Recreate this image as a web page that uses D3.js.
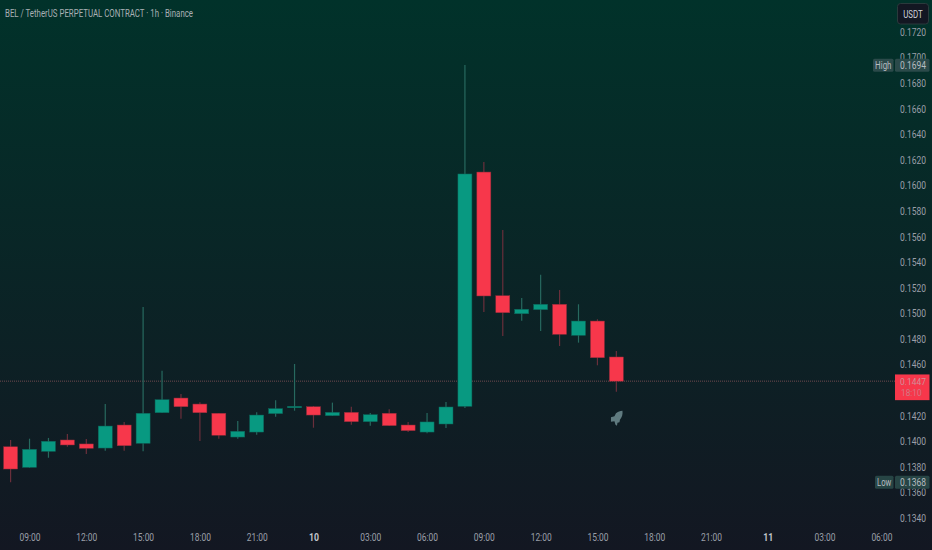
<!DOCTYPE html>
<html>
<head>
<meta charset="utf-8">
<title>BEL / TetherUS</title>
<script src="https://cdn.jsdelivr.net/npm/d3@7"></script>
<style>
  html, body { margin: 0; padding: 0; background: #131722; }
  svg { display: block; }
  text { font-family: Roboto, "Liberation Sans", sans-serif; }
</style>
</head>
<body>
<svg id="chart" width="932" height="550"></svg>
<script>
// hourly candles, first one is 08:00
const opens = [0.13957, 0.13796, 0.13921, 0.14010, 0.13979, 0.13947, 0.14127, 0.13984, 0.14223, 0.14338, 0.14291,
  0.14219, 0.14033, 0.14072, 0.14216, 0.14262, 0.14270, 0.14200, 0.14226, 0.14153, 0.14219, 0.14127, 0.14072,
  0.14135, 0.14273, 0.16105, 0.15138, 0.14997, 0.15029, 0.15071, 0.14828, 0.14940, 0.14659];
const highs = [0.14010, 0.14020, 0.14026, 0.14057, 0.14018, 0.14291, 0.14151, 0.15050, 0.14552, 0.14370, 0.14305,
  0.14221, 0.14158, 0.14226, 0.14320, 0.14604, 0.14276, 0.14302, 0.14270, 0.14221, 0.14250, 0.14151, 0.14221,
  0.14307, 0.16942, 0.16184, 0.15652, 0.15120, 0.15302, 0.15183, 0.15071, 0.14954, 0.14706];
const lows = [0.13680, 0.13793, 0.13871, 0.13957, 0.13900, 0.13926, 0.13926, 0.13921, 0.14221, 0.14176, 0.14002,
  0.14020, 0.14020, 0.14051, 0.14192, 0.14239, 0.14106, 0.14198, 0.14130, 0.14122, 0.14119, 0.14072, 0.14062,
  0.14104, 0.14260, 0.15011, 0.14823, 0.14943, 0.14862, 0.14745, 0.14771, 0.14594, 0.14388];
const closes = [0.13783, 0.13937, 0.14000, 0.13971, 0.13945, 0.14119, 0.13965, 0.14219, 0.14325, 0.14270, 0.14223,
  0.14047, 0.14078, 0.14205, 0.14255, 0.14273, 0.14205, 0.14226, 0.14153, 0.14208, 0.14122, 0.14083, 0.14151,
  0.14268, 0.16090, 0.15136, 0.15005, 0.15032, 0.15071, 0.14836, 0.14940, 0.14653, 0.14470];

const priceTicks = [0.1720, 0.1700, 0.1680, 0.1660, 0.1640, 0.1620, 0.1600, 0.1580, 0.1560, 0.1540, 0.1520, 0.1500,
  0.1480, 0.1460, 0.1420, 0.1400, 0.1380, 0.1360, 0.1340];
const timeTickIndex = [1, 4, 7, 10, 13, 16, 19, 22, 25, 28, 31, 34, 37, 40, 43, 46];
const timeTickLabels = ["09:00", "12:00", "15:00", "18:00", "21:00", "10", "03:00", "06:00", "09:00", "12:00",
  "15:00", "18:00", "21:00", "11", "03:00", "06:00"];

const title = "BEL / TetherUS PERPETUAL CONTRACT · 1h · Binance";
const lastPrice = 0.1447;
const countdown = "18:10";
const highPrice = 0.1694;
const lowPrice = 0.1368;

const UP = "#089981";
const DOWN = "#f7374b";
const UP_WICK = "#27695f";
const DOWN_WICK = "#6a2f3b";
const TEXT = "#9a9fa8";

const svg = d3.select("#chart");
const width = 932;
const height = 550;

// the reference font is narrower than anything installed, so squeeze to its widths
function squeeze(selection, length) {
  selection.attr("textLength", length).attr("lengthAdjust", "spacingAndGlyphs");
}

const defs = svg.append("defs");
const grad = defs.append("linearGradient")
  .attr("id", "bg")
  .attr("x1", 0).attr("x2", 0).attr("y1", 0).attr("y2", 1);
grad.append("stop").attr("offset", "0%").attr("stop-color", "#01322a");
grad.append("stop").attr("offset", "100%").attr("stop-color", "#131722");

svg.append("rect")
  .attr("width", width)
  .attr("height", height)
  .attr("fill", "url(#bg)");

const y = d3.scaleLinear().domain([0.1340, 0.1720]).range([518, 32]);
const x = d3.scaleLinear().domain([0, 1]).range([10.6, 29.53]);

// last price line
svg.append("line")
  .attr("x1", 0).attr("x2", 895)
  .attr("y1", y(lastPrice)).attr("y2", y(lastPrice))
  .attr("stroke", "#6f4a4e")
  .attr("stroke-dasharray", "1 1");

const candles = d3.range(opens.length).map((i) => ({
  i,
  open: opens[i],
  high: highs[i],
  low: lows[i],
  close: closes[i],
  up: closes[i] >= opens[i],
}));

const bodyWidth = 14;

svg.append("g").selectAll("line")
  .data(candles)
  .join("line")
  .attr("x1", (d) => x(d.i))
  .attr("x2", (d) => x(d.i))
  .attr("y1", (d) => y(d.high))
  .attr("y2", (d) => y(d.low))
  .attr("stroke", (d) => (d.up ? UP_WICK : DOWN_WICK))
  .attr("stroke-width", 1.2);

svg.append("g").selectAll("rect")
  .data(candles)
  .join("rect")
  .attr("x", (d) => x(d.i) - bodyWidth / 2)
  .attr("width", bodyWidth)
  .attr("y", (d) => y(Math.max(d.open, d.close)))
  .attr("height", (d) => Math.max(1, Math.abs(y(d.open) - y(d.close))))
  .attr("fill", (d) => (d.up ? UP : DOWN))
  .attr("stroke", (d) => (d.up ? "#0c6358" : "#8a2c3a"))
  .attr("stroke-width", 0.5);

// rocket mark under the last candle
svg.append("path")
  .attr("transform", `translate(${x(32) + 0.6},${y(0.1418)})`)
  .attr("d", "M5.5 -7.5 C6 -4 5 -1 3 1.5 L2.5 4 L0.5 4.5 L0 7.5 L-1.5 6.5 L-2.5 3 L-6 3.5 L-6 -1 L-2.5 -2 L-1 -5 C1 -6.5 3 -7.5 5.5 -7.5 Z")
  .attr("fill", "#607b80");

// axes
const xAxis = d3.axisBottom(x)
  .tickValues(timeTickIndex)
  .tickFormat((d, i) => timeTickLabels[i])
  .tickSize(0)
  .tickPadding(0);

const xAxisG = svg.append("g")
  .attr("transform", "translate(0,534)")
  .call(xAxis);
xAxisG.select(".domain").remove();
xAxisG.selectAll("text")
  .attr("dy", "0.71em")
  .attr("font-size", 10.5)
  .attr("textLength", (d, i) => (timeTickLabels[i].length === 2 ? 10 : 21))
  .attr("lengthAdjust", "spacingAndGlyphs")
  .attr("fill", (d, i) => (timeTickLabels[i].length === 2 ? "#c4c7cd" : TEXT))
  .attr("font-weight", (d, i) => (timeTickLabels[i].length === 2 ? 700 : 400));

const yAxis = d3.axisRight(y)
  .tickValues(priceTicks)
  .tickFormat(d3.format(".4f"))
  .tickSize(0)
  .tickPadding(0);

const yAxisG = svg.append("g")
  .attr("transform", "translate(900,0)")
  .call(yAxis);
yAxisG.select(".domain").remove();
yAxisG.selectAll("text")
  .attr("font-size", 10.5)
  .attr("fill", TEXT)
  .call(squeeze, 26);

// title
svg.append("text")
  .attr("x", 5)
  .attr("y", 17)
  .attr("font-size", 11)
  .attr("fill", "#a9b0b4")
  .text(title)
  .call(squeeze, 188);

// USDT button
svg.append("rect")
  .attr("x", 897.5).attr("y", 3.5)
  .attr("width", 31).attr("height", 20.5)
  .attr("rx", 3)
  .attr("fill", "#131722")
  .attr("stroke", "#2a3a3c");
svg.append("text")
  .attr("x", 913).attr("y", 18)
  .attr("text-anchor", "middle")
  .attr("font-size", 11)
  .attr("fill", "#d1d4dc")
  .text("USDT")
  .call(squeeze, 19.5);

// high / low tags
function priceTag(label, price, fill, labelWidth, textWidth) {
  const cy = y(price);
  svg.append("rect")
    .attr("x", 893.5 - labelWidth).attr("y", cy - 6.5)
    .attr("width", labelWidth).attr("height", 13)
    .attr("rx", 1.5)
    .attr("fill", fill);
  svg.append("text")
    .attr("x", 893.5 - labelWidth / 2).attr("y", cy + 3.5)
    .attr("text-anchor", "middle")
    .attr("font-size", 10.5)
    .attr("fill", "#b6bcc0")
    .text(label)
    .call(squeeze, textWidth);
  svg.append("rect")
    .attr("x", 895).attr("y", cy - 6.5)
    .attr("width", 34.5).attr("height", 13)
    .attr("rx", 1.5)
    .attr("fill", fill);
  svg.append("text")
    .attr("x", 900).attr("y", cy + 3.5)
    .attr("font-size", 10.5)
    .attr("fill", "#b6bcc0")
    .text(d3.format(".4f")(price))
    .call(squeeze, 26);
}
priceTag("High", highPrice, "#2b4a4a", 20.5, 16.3);
priceTag("Low", lowPrice, "#274545", 18.5, 14.3);

// last price tag
svg.append("rect")
  .attr("x", 895).attr("y", y(lastPrice) - 6.7)
  .attr("width", 34.5).attr("height", 25.7)
  .attr("fill", DOWN);
svg.append("text")
  .attr("x", 900).attr("y", y(lastPrice) + 3.5)
  .attr("font-size", 9.5)
  .attr("fill", "#d09098")
  .text(d3.format(".4f")(lastPrice))
  .call(squeeze, 26);
svg.append("text")
  .attr("x", 901).attr("y", y(lastPrice) + 14.5)
  .attr("font-size", 9.5)
  .attr("fill", "#d07a85")
  .text(countdown)
  .call(squeeze, 20.7);
</script>
</body>
</html>
